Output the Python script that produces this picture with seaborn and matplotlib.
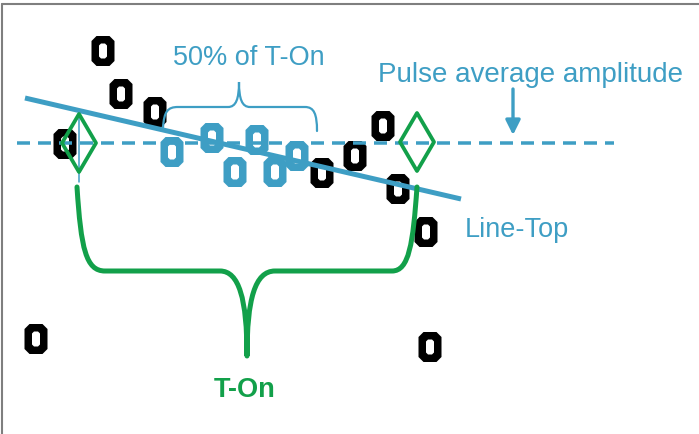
import numpy as np
import pandas as pd
import matplotlib
matplotlib.use('Agg')
import matplotlib.pyplot as plt
from matplotlib.path import Path
from matplotlib.patches import PathPatch
import seaborn as sns

# sample positions (x = time, y = level, y grows downward)
outside_x = [103, 121, 155, 65, 322, 355, 383, 398, 426, 36, 430]
outside_y = [52, 95, 113, 145, 174, 157, 127, 190, 233, 340, 348]
inside_x = [172, 212, 257, 235, 275, 297]
inside_y = [153, 139, 141, 173, 173, 157]

# Line-Top fit and pulse average amplitude
fit_x = [25, 461]
fit_y = [99, 200]
avg_x = [17, 614]
avg_y = [144, 144]

# T-On edges (diamonds)
edge_x = [79, 417]
edge_y = [144, 143]

BLUE = '#3E9EC4'
GREEN = '#12A04A'


def ring_marker():
    # octagonal "0" shaped ring
    a, b, c = 11.5, 15, 5
    outer = [(-a + c, b), (a - c, b), (a, b - c), (a, -b + c),
             (a - c, -b), (-a + c, -b), (-a, -b + c), (-a, b - c)]
    a, b, c = 4, 7.5, 2
    inner = [(-a + c, b), (-a, b - c), (-a, -b + c), (-a + c, -b),
             (a - c, -b), (a, -b + c), (a, b - c), (a - c, b)]
    verts = outer + [outer[0]] + inner + [inner[0]]
    codes = ([Path.MOVETO] + [Path.LINETO] * 7 + [Path.CLOSEPOLY]) * 2
    return Path(verts, codes)


def diamond_marker():
    return Path([(0, 29), (17, 0), (0, -29), (-17, 0), (0, 29)],
                [Path.MOVETO, Path.LINETO, Path.LINETO, Path.LINETO, Path.CLOSEPOLY])


sns.set_theme(style='white')
plt.rcParams['font.family'] = ['Liberation Sans', 'DejaVu Sans']

fig = plt.figure(figsize=(6.99, 4.35), dpi=100)
ax = fig.add_axes([0, 0, 1, 1])

df = pd.DataFrame({
    't': outside_x + inside_x,
    'level': outside_y + inside_y,
    'group': ['out'] * len(outside_x) + ['in'] * len(inside_x),
})
sns.scatterplot(data=df, x='t', y='level', hue='group',
                palette={'out': 'black', 'in': BLUE},
                marker=ring_marker(), s=(30 * 0.72) ** 2, linewidth=0,
                legend=False, ax=ax, zorder=2)

# average amplitude dashed line
lw = 3.5 * 0.72
ax.plot(avg_x, avg_y, color=BLUE, lw=lw, dashes=(13 * 0.72 / lw, 8 * 0.72 / lw),
        solid_capstyle='butt', dash_capstyle='butt', zorder=3)
# Line-Top
sns.lineplot(x=fit_x, y=fit_y, color=BLUE, lw=5 * 0.72, ax=ax, zorder=3,
             solid_capstyle='butt')

# thin marker inside the left diamond
ax.plot([edge_x[0], edge_x[0]], [113, 183], color=BLUE, lw=1.1, zorder=3)

ax.scatter(edge_x, edge_y, marker=diamond_marker(), s=(58 * 0.72) ** 2,
           facecolors='none', edgecolors=GREEN, linewidths=3.8 * 0.72, zorder=4)

# big brace for T-On
big = Path(
    [(77, 188), (81, 250), (86, 272), (105, 272), (220, 272),
     (239, 272), (247, 300), (247, 357),
     (247, 300), (255, 272), (275, 272), (392, 272),
     (409, 272), (413, 245), (417, 188)],
    [Path.MOVETO, Path.CURVE4, Path.CURVE4, Path.CURVE4, Path.LINETO,
     Path.CURVE4, Path.CURVE4, Path.CURVE4,
     Path.CURVE4, Path.CURVE4, Path.CURVE4, Path.LINETO,
     Path.CURVE4, Path.CURVE4, Path.CURVE4])
ax.add_patch(PathPatch(big, fill=False, edgecolor=GREEN, lw=5 * 0.72,
                       capstyle='round', joinstyle='round', zorder=3))

# small brace for 50% of T-On
small = Path(
    [(163, 129), (164, 112), (168, 108), (178, 108), (228, 108),
     (236, 108), (239, 100), (239, 83),
     (239, 100), (242, 108), (250, 108), (305, 108),
     (314, 108), (317, 115), (317, 132)],
    [Path.MOVETO, Path.CURVE4, Path.CURVE4, Path.CURVE4, Path.LINETO,
     Path.CURVE4, Path.CURVE4, Path.CURVE4,
     Path.CURVE4, Path.CURVE4, Path.CURVE4, Path.LINETO,
     Path.CURVE4, Path.CURVE4, Path.CURVE4])
ax.add_patch(PathPatch(small, fill=False, edgecolor=BLUE, lw=1.6,
                       capstyle='round', zorder=3))

ax.annotate('', xy=(513, 136), xytext=(513, 90),
            arrowprops=dict(arrowstyle='-|>', color=BLUE, lw=2.4,
                            mutation_scale=22, shrinkA=0, shrinkB=0))

ax.text(249, 65, '50% of T-On', ha='center', va='baseline', fontsize=19.5, color=BLUE)
ax.text(531, 82, 'Pulse average amplitude', ha='center', va='baseline',
        fontsize=20, color=BLUE)
ax.text(465, 237, 'Line-Top', ha='left', va='baseline', fontsize=19.5, color=BLUE)
ax.text(245, 397, 'T-On', ha='center', va='baseline', fontsize=19.5,
        fontweight='bold', color=GREEN)

# frame (top and left only)
ax.plot([2, 699], [4.5, 4.5], color='#7f7f7f', lw=1.5, clip_on=False)
ax.plot([2, 2], [4.5, 435], color='#7f7f7f', lw=1.5, clip_on=False)

ax.set_xlim(0, 699)
ax.set_ylim(435, 0)
ax.axis('off')

fig.savefig('out.png', dpi=100)
